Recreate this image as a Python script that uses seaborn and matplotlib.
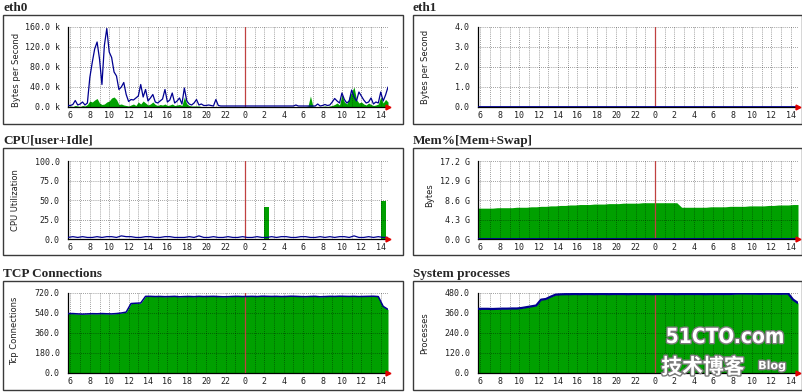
""" MRTG style server overview, 6 panels """

import numpy as np
import pandas as pd
import seaborn as sns
import matplotlib.pyplot as plt
from matplotlib import patches
from matplotlib import patheffects as pe
from matplotlib.ticker import MultipleLocator, FixedLocator

sns.set_theme(style='white')
plt.rcParams['font.family'] = ['DejaVu Sans', 'Noto Sans CJK SC']

W, H = 802, 392
GREEN = '#00a000'
BLUE = '#000090'
MONO = 'DejaVu Sans Mono'

# hours since midnight of the first day (24 = next midnight)
t15 = np.arange(5.75, 38.76, 0.25)
t30 = np.arange(5.75, 38.76, 0.5)

# #############################################
# eth0, k bytes/s, 15 min samples
eth0_out = [3,
    3, 5, 13, 4,  6, 10, 4, 8,  59, 89, 116, 130,  96, 45, 123, 157,
    110, 99, 70, 62,  35, 40, 49, 25,  11, 15, 14, 18,  22, 45, 20, 35,
    12, 18, 25, 10,  8, 12, 16, 35,  10, 14, 28, 8,  12, 18, 6, 38,
    12, 6, 4, 8,  15, 4, 6, 3,  3, 4, 3, 2,  15, 3, 2, 2,
    2, 2, 2, 2,  2, 2, 2, 2,
    2, 2, 2, 2,  2, 2, 2, 2,  2, 2, 2, 2,  2, 2, 2, 2,  2, 2, 2, 2,
    2, 4, 2, 2,  2, 2, 2, 2,  2, 2, 6, 2,  3, 5, 3, 4,  10, 17, 12, 8,
    28, 15, 8, 12,  34, 20, 12, 30,  22, 14, 8, 10,  18, 6, 10, 8,
    30, 12, 24, 40]
eth0_in = [1,
    2, 1, 3, 2,  1, 3, 2, 5,  12, 10, 14, 17,  8, 5, 6, 10,
    12, 18, 20, 15,  5, 6, 4, 3,  2, 4, 6, 3,  10, 6, 12, 8,
    4, 6, 10, 5,  3, 5, 4, 6,  3, 4, 6, 3,  4, 5, 3, 20,
    6, 3, 2, 2,  2, 2, 1, 1,  1, 1, 1, 1,  1, 1, 1, 1,
    1, 1, 1, 1,  1, 1, 1, 1,
    1, 1, 1, 1,  1, 1, 1, 1,  1, 1, 1, 1,  1, 1, 1, 1,  1, 1, 1, 1,
    1, 1, 1, 1,  1, 1, 2, 22,  2, 1, 1, 1,  1, 2, 1, 2,  3, 5, 8, 4,
    25, 10, 6, 20,  30, 40, 15, 8,  10, 6, 4, 8,  5, 3, 4, 6,
    20, 8, 15, 10]

# eth1, bytes/s, 30 min samples
eth1_in = [0,
    0, 0, 0, 0, 0, 0, 0, 0, 0, 0, 0, 0, 0, 0, 0, 0, 0, 0,
    0, 0, 0, 0, 0, 0, 0, 0, 0, 0, 0, 0, 0, 0, 0, 0, 0, 0,
    0, 0, 0, 0, 0, 0, 0, 0, 0, 0, 0, 0, 0, 0, 0,
    0, 0, 0, 0, 0, 0, 0, 0, 0, 0, 0, 0, 0, 0, 0]
eth1_out = [0,
    0, 0, 0, 0, 0, 0, 0, 0, 0, 0, 0, 0, 0, 0, 0, 0, 0, 0,
    0, 0, 0, 0, 0, 0, 0, 0, 0, 0, 0, 0, 0, 0, 0, 0, 0, 0,
    0, 0, 0, 0, 0, 0, 0, 0, 0, 0, 0, 0, 0, 0, 0,
    0, 0, 0, 0, 0, 0, 0, 0, 0, 0, 0, 0, 0, 0, 0]

# CPU %, 30 min samples
cpu_user = [0,
    0, 0, 0, 0, 0, 0, 0, 0, 0, 0, 0, 0, 0, 0, 0, 0, 0, 0,
    0, 0, 0, 0, 0, 0, 0, 0, 0, 0, 0, 0, 0, 0, 0, 0, 0, 0,
    0, 0, 0, 0, 41, 0, 0, 0, 0, 0, 0, 0, 0, 0, 0,
    0, 0, 0, 0, 0, 0, 0, 0, 0, 0, 0, 0, 0, 49, 0]
cpu_idle = [2,
    3, 2, 3, 2, 2, 3, 2, 3, 3, 2, 4, 3, 3, 2, 2, 3, 3, 2,
    2, 3, 3, 2, 2, 2, 3, 2, 4, 2, 2, 3, 2, 2, 3, 2, 2, 3,
    2, 2, 3, 2, 2, 3, 2, 3, 3, 2, 2, 3, 3, 2, 2,
    3, 2, 3, 2, 3, 3, 2, 4, 2, 2, 3, 2, 3, 2, 2]

# Memory, GB, 30 min samples
mem_used = [6.8,
    6.8, 6.8, 6.8, 6.9, 6.9, 6.9, 6.9, 7.0, 7.0, 7.0, 7.1, 7.1,
    7.2, 7.2, 7.3, 7.3, 7.4, 7.4, 7.5, 7.5, 7.6, 7.6, 7.6, 7.7,
    7.7, 7.7, 7.8, 7.8, 7.8, 7.9, 7.9, 7.9, 7.9, 8.0, 8.0, 8.0,
    8.0, 8.0, 8.0, 8.0, 8.0, 7.0, 7.0, 7.0, 7.0, 7.0, 7.0, 7.1,
    7.1, 7.1, 7.1, 7.2, 7.2, 7.2, 7.2, 7.3, 7.3, 7.3, 7.3, 7.4,
    7.4, 7.5, 7.5, 7.5, 7.6, 7.6]
mem_swap = [0,
    0, 0, 0, 0, 0, 0, 0, 0, 0, 0, 0, 0, 0, 0, 0, 0, 0, 0,
    0, 0, 0, 0, 0, 0, 0, 0, 0, 0, 0, 0, 0, 0, 0, 0, 0, 0,
    0, 0, 0, 0, 0, 0, 0, 0, 0, 0, 0, 0, 0, 0, 0,
    0, 0, 0, 0, 0, 0, 0, 0, 0, 0, 0, 0, 0, 0, 0]

# TCP connections, 30 min samples
tcp_conn = [535,
    535, 532, 530, 532, 534, 533, 535, 533, 532, 535, 540, 548,
    625, 628, 630, 690, 690, 688, 689, 687, 688, 690, 686, 688,
    689, 687, 690, 688, 689, 690, 688, 686, 687, 689, 690, 688,
    689, 690, 688, 691, 690, 689, 690, 688, 689, 691, 690, 688,
    687, 689, 690, 686, 688, 690, 689, 691, 690, 689, 690, 688,
    689, 690, 691, 688, 600, 572]

# System processes, 30 min samples
procs = [385,
    385, 385, 384, 385, 386, 386, 387, 387, 390, 395, 400, 405,
    440, 444, 458, 470, 472, 473, 473, 474, 473, 474, 474, 473,
    474, 474, 473, 474, 474, 474, 473, 474, 474, 474, 474, 473,
    474, 474, 474, 474, 473, 474, 474, 474, 474, 474, 473, 474,
    474, 474, 474, 474, 476, 477, 477, 476, 476, 475, 476, 476,
    476, 475, 476, 476, 440, 420]


def px_axes(fig, x0, y0, x1, y1):
    return fig.add_axes([x0 / W, 1 - y1 / H, (x1 - x0) / W, (y1 - y0) / H])


def frame(fig, x0, y0, x1, y1, title):
    fig.patches.append(patches.Rectangle(
        (x0 / W, 1 - y1 / H), (x1 - x0) / W, (y1 - y0) / H,
        transform=fig.transFigure, fill=False, ec='#3a3a3a', lw=1.0))
    fig.text(x0 / W, 1 - (y0 - 7) / H, title, ha='left', va='center',
             fontsize=9.5, fontweight='bold', family='Liberation Serif')


def ylab(fig, xc, yc, text):
    fig.text(xc / W, 1 - yc / H, text, rotation=90, ha='center',
             va='center', fontsize=6, color='#202020')


def style_axes(ax, ymax, yticks, ylabels):
    ax.set_xlim(5.75, 38.75)
    ax.set_ylim(0, ymax)
    hours = list(range(6, 39, 2))
    ax.xaxis.set_major_locator(FixedLocator(hours))
    ax.set_xticklabels([str(h % 24) for h in hours])
    ax.xaxis.set_minor_locator(MultipleLocator(1))
    ax.set_yticks(yticks)
    ax.set_yticklabels(ylabels)
    ax.set_xlabel('')
    ax.set_ylabel('')
    ax.set_axisbelow(False)
    ax.grid(which='both', axis='x', ls=(0, (1, 1.5)), lw=0.6,
            color='black', alpha=0.5)
    ax.grid(which='major', axis='y', ls=(0, (1, 1.5)), lw=0.6,
            color='black', alpha=0.5)
    for side in ['top', 'right']:
        ax.spines[side].set_visible(False)
    for side in ['left', 'bottom']:
        ax.spines[side].set_color('black')
        ax.spines[side].set_linewidth(0.9)
    ax.tick_params(which='major', direction='in', length=2, width=0.8,
                   color='black', labelsize=6, labelcolor='#202020')
    ax.tick_params(axis='x', which='major', pad=3)
    ax.tick_params(axis='y', which='major', pad=6)
    ax.tick_params(which='minor', length=0)
    for lbl in ax.get_xticklabels() + ax.get_yticklabels():
        lbl.set_family(MONO)
    # midnight marker and arrow head
    ax.axvline(24, color='#c04040', lw=0.9, zorder=2.6)
    ax.plot([38.75], [0], marker='>', color='#e00000', ms=3.5,
            clip_on=False, zorder=5)
    ax.set_facecolor('white')


fig = plt.figure(figsize=(W / 100, H / 100), dpi=100)
fig.patch.set_facecolor('white')

# #########################################################
# eth0
frame(fig, 3, 15, 403, 124, 'eth0')
ax = px_axes(fig, 68, 27, 388, 107)
df = pd.DataFrame({'hour': t15, 'in': eth0_in, 'out': eth0_out})
ax.fill_between(df['hour'], df['in'], color=GREEN, lw=0, zorder=1)
sns.lineplot(data=df, x='hour', y='out', ax=ax, color=BLUE, lw=0.9,
             zorder=3)
style_axes(ax, 160, [0, 40, 80, 120, 160],
           ['0.0 k', '40.0 k', '80.0 k', '120.0 k', '160.0 k'])
ylab(fig, 17, 70, 'Bytes per Second')

# #########################################################
# eth1
frame(fig, 413, 15, 802, 124, 'eth1')
ax = px_axes(fig, 478, 27, 798, 107)
df = pd.DataFrame({'hour': t30, 'in': eth1_in, 'out': eth1_out})
ax.fill_between(df['hour'], df['in'], color=GREEN, lw=0, zorder=1)
sns.lineplot(data=df, x='hour', y='out', ax=ax, color=BLUE, lw=2,
             zorder=3)
style_axes(ax, 4, [0, 1, 2, 3, 4], ['0.0', '1.0', '2.0', '3.0', '4.0'])
ylab(fig, 425, 67, 'Bytes per Second')

# #########################################################
# CPU
frame(fig, 3, 148, 403, 255, 'CPU[user+Idle]')
ax = px_axes(fig, 68, 161, 388, 239)
df = pd.DataFrame({'hour': t30, 'user': cpu_user, 'idle': cpu_idle})
ax.fill_between(df['hour'], df['user'], color=GREEN, lw=0, step='mid',
                zorder=1)
sns.lineplot(data=df, x='hour', y='idle', ax=ax, color=BLUE, lw=0.9,
             zorder=3)
style_axes(ax, 100, [0, 25, 50, 75, 100],
           ['0.0', '25.0', '50.0', '75.0', '100.0'])
ylab(fig, 16, 200, 'CPU Utilization')

# #########################################################
# Memory
frame(fig, 413, 148, 802, 255, 'Mem%[Mem+Swap]')
ax = px_axes(fig, 478, 161, 798, 239)
df = pd.DataFrame({'hour': t30, 'mem': mem_used, 'swap': mem_swap})
ax.fill_between(df['hour'], df['mem'], color=GREEN, lw=0, zorder=1)
sns.lineplot(data=df, x='hour', y='swap', ax=ax, color=BLUE, lw=2,
             zorder=3)
style_axes(ax, 17.2, [0, 4.3, 8.6, 12.9, 17.2],
           ['0.0 G', '4.3 G', '8.6 G', '12.9 G', '17.2 G'])
ylab(fig, 430, 195, 'Bytes')

# #########################################################
# TCP connections
frame(fig, 3, 281, 403, 390, 'TCP Connections')
ax = px_axes(fig, 68, 293, 388, 373)
df = pd.DataFrame({'hour': t30, 'conn': tcp_conn})
ax.fill_between(df['hour'], df['conn'], color=GREEN, lw=0, zorder=1)
sns.lineplot(data=df, x='hour', y='conn', ax=ax, color=BLUE, lw=1.1,
             zorder=3)
style_axes(ax, 720, [0, 180, 360, 540, 720],
           ['0.0', '180.0', '360.0', '540.0', '720.0'])
ylab(fig, 15, 331, 'Tcp Connections')

# #########################################################
# System processes
frame(fig, 413, 281, 802, 390, 'System processes')
ax = px_axes(fig, 478, 293, 798, 373)
df = pd.DataFrame({'hour': t30, 'procs': procs})
ax.fill_between(df['hour'], df['procs'], color=GREEN, lw=0, zorder=1)
sns.lineplot(data=df, x='hour', y='procs', ax=ax, color=BLUE, lw=1.6,
             zorder=3)
style_axes(ax, 480, [0, 120, 240, 360, 480],
           ['0.0', '120.0', '240.0', '360.0', '480.0'])
ylab(fig, 425, 333, 'Processes')

# watermark
stroke = [pe.withStroke(linewidth=2, foreground='#7a7a7a')]
fig.text(725 / W, 1 - 337 / H, '51CTO.com', ha='center', va='center',
         fontsize=15, fontweight='bold', color='white',
         family='DejaVu Sans', fontstretch='condensed',
         path_effects=stroke)
fig.text(703 / W, 1 - 367 / H, '技术博客', ha='center', va='center',
         fontsize=15, fontweight='bold', color='white',
         family=['Noto Sans CJK SC', 'DejaVu Sans'], path_effects=stroke)
fig.text(772 / W, 1 - 366 / H, 'Blog', ha='center', va='center',
         fontsize=8, fontweight='bold', color='white',
         path_effects=stroke)

fig.savefig('out.png', dpi=100, facecolor='white')
print('Saved: out.png')
